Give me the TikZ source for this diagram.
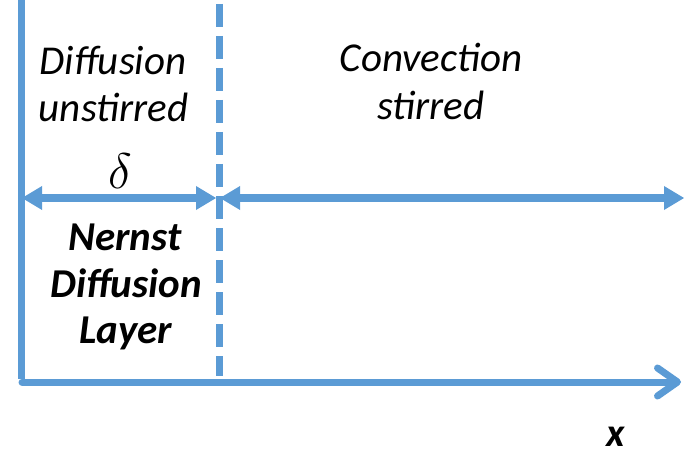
\RequirePackage{fix-cm}
\documentclass[tikz,border=0pt]{standalone}
\usepackage{fontspec}
\setmainfont{Carlito}
\usetikzlibrary{arrows.meta}
\definecolor{axisblue}{HTML}{5B9BD5}
\begin{document}
\begin{tikzpicture}[x=1pt,y=-1pt,
  axisline/.style={draw=axisblue,line width=7pt},
  dimline/.style={draw=axisblue,line width=8pt,
    {Triangle[length=20pt,width=24pt,line width=0pt]}-{Triangle[length=20pt,width=24pt,line width=0pt]}},
  itlabel/.style={anchor=base,inner sep=0pt,font=\fontsize{41}{47}\selectfont\itshape},
  bdlabel/.style={anchor=base,inner sep=0pt,font=\fontsize{41}{47}\selectfont\bfseries\itshape}]
\useasboundingbox (0,0) rectangle (684,454);
% axes
\coordinate (ytop) at (21.5,0);
\coordinate (ybot) at (21.5,379);
\coordinate (xstart) at (22,382);
\coordinate (xend) at (681,382);
\draw[axisline] (ytop) -- (ybot);
\draw[axisline,line cap=round,line join=round,
  -{Straight Barb[length=20pt,width=28pt,line width=7pt,round]}] (xstart) -- (xend);
% boundary
\coordinate (dtop) at (219,4);
\coordinate (dbot) at (219,376);
\draw[axisline,dash pattern=on 23pt off 9pt] (dtop) -- (dbot);
% dimension arrows
\coordinate (a1) at (22,198);
\coordinate (a2) at (216,198);
\coordinate (b1) at (220,198);
\coordinate (b2) at (684,198);
\draw[dimline] (a1) -- (a2);
\draw[dimline] (b1) -- (b2);
% labels
\node[itlabel] (d1) at (113,75) {Diffusion};
\node[itlabel] (d2) at (113.5,122) {unstirred};
\node[itlabel] (c1) at (431,72) {Convection};
\node[itlabel] (c2) at (431,120) {stirred};
\node[anchor=base,inner sep=0pt,font=\fontsize{50}{50}\selectfont] (delta) at (120,189) {$\delta$};
\node[bdlabel] (n1) at (125,250) {Nernst};
\node[bdlabel] (n2) at (126,297) {Diffusion};
\node[bdlabel] (n3) at (126,343) {Layer};
\node[anchor=base,inner sep=0pt,font=\fontsize{40}{40}\selectfont\bfseries\itshape] (xl) at (616,446) {x};
\end{tikzpicture}
\end{document}
